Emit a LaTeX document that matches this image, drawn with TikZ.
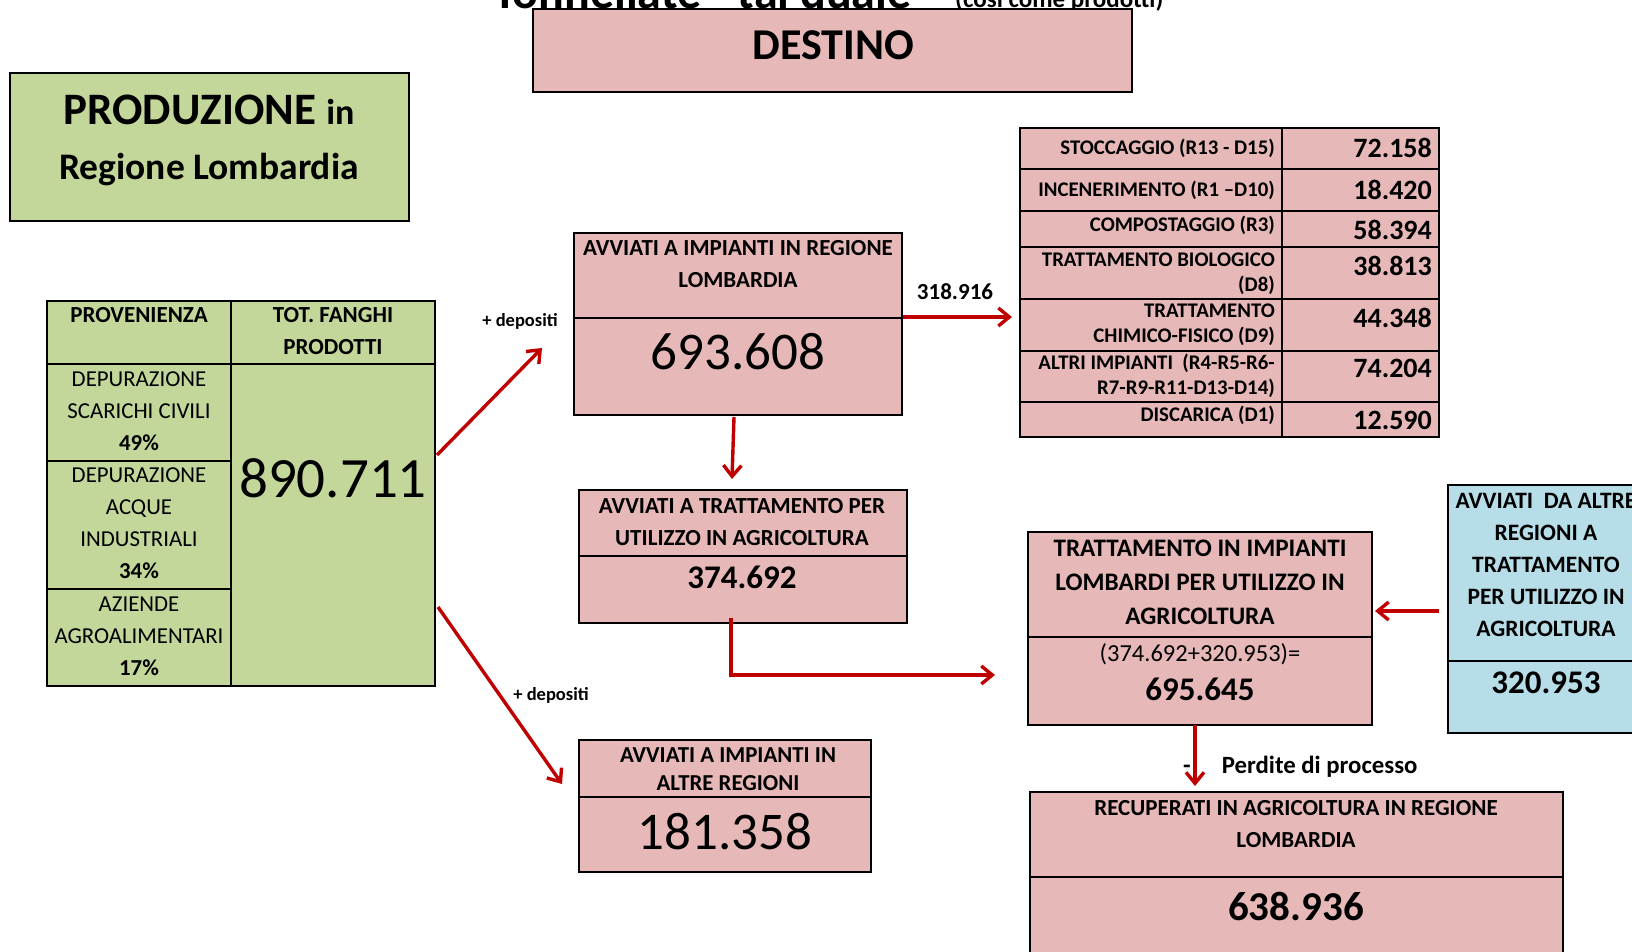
\documentclass[tikz,border=0pt]{standalone}
\usepackage{fontspec}
\setmainfont{Carlito}
\usetikzlibrary{arrows.meta,calc}

\definecolor{verde}{HTML}{C4D79B}
\definecolor{rosa}{HTML}{E6B9B8}
\definecolor{azzurro}{HTML}{B7DEE8}
\definecolor{rosso}{HTML}{C00000}

\newcommand{\fs}[2]{\fontsize{#1}{#2}\selectfont}

\tikzset{
  cella/.style={draw, line width=1.2pt, anchor=north west, inner sep=0pt, outer sep=0pt},
  intesta/.style={font=\bfseries\fs{23}{32}, align=center},
  voce/.style={font=\fs{22.8}{32}, align=center},
  etich/.style={font=\bfseries\fs{20.8}{25}, align=right, anchor=east},
  cifra/.style={font=\bfseries\fs{28}{28}, anchor=east},
  freccia/.style={rosso, line width=3.4pt, -{Straight Barb[length=11pt,width=18pt]}}
}

\begin{document}
\begin{tikzpicture}[x=1pt,y=-1pt,inner sep=0pt]

\useasboundingbox (0,0) rectangle (1632,952);

% titolo tagliato in alto
\node[anchor=base west, font=\bfseries\fs{48}{48}] (tonn) at (493,9) {Tonnellate - tal quale};
\node[anchor=base west, font=\bfseries\fs{25}{25}] (cosi) at (955,8) {(così come prodotti)};

% produzione
\node[cella, fill=verde, minimum width=399pt, minimum height=148pt] (prod) at (10,73) {};
\node[anchor=base, font=\bfseries\fs{45}{45}] (prodT) at (209,125) {PRODUZIONE {\fs{36}{36}in}};
\node[anchor=base, font=\bfseries\fs{37.5}{37.5}] (prodR) at (209,179) {Regione Lombardia};

% destino
\node[cella, fill=rosa, minimum width=599pt, minimum height=83pt] (dest) at (533,9) {};
\node[anchor=base, font=\bfseries\fs{44}{44}] (destT) at (833,60) {DESTINO};

% tabella provenienza
\node[cella, fill=verde, minimum width=184pt, minimum height=63pt] (provH) at (47,301) {};
\node[cella, fill=verde, minimum width=204pt, minimum height=63pt] (totH) at (231,301) {};
\node[cella, fill=verde, minimum width=184pt, minimum height=97pt] (civ) at (47,364) {};
\node[cella, fill=verde, minimum width=184pt, minimum height=128pt] (ind) at (47,461) {};
\node[cella, fill=verde, minimum width=184pt, minimum height=97pt] (agro) at (47,589) {};
\node[cella, fill=verde, minimum width=204pt, minimum height=322pt] (tot) at (231,364) {};

\node[intesta] at (139,315) {PROVENIENZA};
\node[intesta] at (333,331) {TOT. FANGHI\\PRODOTTI};
\node[voce] at (139,411.5) {DEPURAZIONE\\SCARICHI CIVILI\\\textbf{49\%}};
\node[voce] at (139,523.5) {DEPURAZIONE\\ACQUE\\INDUSTRIALI\\\textbf{34\%}};
\node[voce] at (139,636.5) {AZIENDE\\AGROALIMENTARI\\\textbf{17\%}};
\node[font=\fs{57}{57}] at (333,478) {890.711};

% avviati in regione
\node[cella, fill=rosa, minimum width=328pt, minimum height=85pt] (regH) at (574,233) {};
\node[cella, fill=rosa, minimum width=328pt, minimum height=97pt] (regV) at (574,318) {};
\node[intesta] at (738,264) {AVVIATI A IMPIANTI IN REGIONE\\LOMBARDIA};
\node[font=\fs{53}{53}] at (738,352) {693.608};

% avviati a trattamento
\node[cella, fill=rosa, minimum width=328pt, minimum height=66pt] (agrH) at (579,490) {};
\node[cella, fill=rosa, minimum width=328pt, minimum height=67pt] (agrV) at (579,556) {};
\node[intesta] at (742,522) {AVVIATI A TRATTAMENTO PER\\UTILIZZO IN AGRICOLTURA};
\node[font=\bfseries\fs{33}{33}] at (742,577) {374.692};

% avviati in altre regioni
\node[cella, fill=rosa, minimum width=292pt, minimum height=57pt] (altH) at (579,740) {};
\node[cella, fill=rosa, minimum width=292pt, minimum height=75pt] (altV) at (579,797) {};
\node[intesta, font=\bfseries\fs{22.8}{28}] at (728,769) {AVVIATI A IMPIANTI IN\\ALTRE REGIONI};
\node[font=\fs{53}{53}] at (725,832) {181.358};

% tabella destini
\node[cella, fill=rosa, minimum width=262pt, minimum height=41pt] (s1) at (1020,128) {};
\node[cella, fill=rosa, minimum width=262pt, minimum height=42pt] (s2) at (1020,169) {};
\node[cella, fill=rosa, minimum width=262pt, minimum height=36pt] (s3) at (1020,211) {};
\node[cella, fill=rosa, minimum width=262pt, minimum height=52pt] (s4) at (1020,247) {};
\node[cella, fill=rosa, minimum width=262pt, minimum height=52pt] (s5) at (1020,299) {};
\node[cella, fill=rosa, minimum width=262pt, minimum height=51pt] (s6) at (1020,351) {};
\node[cella, fill=rosa, minimum width=262pt, minimum height=35pt] (s7) at (1020,402) {};
\node[cella, fill=rosa, minimum width=157pt, minimum height=41pt] (n1) at (1282,128) {};
\node[cella, fill=rosa, minimum width=157pt, minimum height=42pt] (n2) at (1282,169) {};
\node[cella, fill=rosa, minimum width=157pt, minimum height=36pt] (n3) at (1282,211) {};
\node[cella, fill=rosa, minimum width=157pt, minimum height=52pt] (n4) at (1282,247) {};
\node[cella, fill=rosa, minimum width=157pt, minimum height=52pt] (n5) at (1282,299) {};
\node[cella, fill=rosa, minimum width=157pt, minimum height=51pt] (n6) at (1282,351) {};
\node[cella, fill=rosa, minimum width=157pt, minimum height=35pt] (n7) at (1282,402) {};

\node[etich] at (1275,148) {STOCCAGGIO (R13 - D15)};
\node[etich] at (1275,190) {INCENERIMENTO (R1 –D10)};
\node[etich] at (1275,225) {COMPOSTAGGIO (R3)};
\node[etich] at (1275,273.5) {TRATTAMENTO BIOLOGICO\\(D8)};
\node[etich] at (1275,325) {TRATTAMENTO\\CHIMICO-FISICO (D9)};
\node[etich] at (1275,375.5) {ALTRI IMPIANTI\ \ (R4-R5-R6-\\R7-R9-R11-D13-D14)};
\node[etich] at (1275,415) {DISCARICA (D1)};

\node[cifra] at (1432,148) {72.158};
\node[cifra] at (1432,190) {18.420};
\node[cifra] at (1432,230) {58.394};
\node[cifra] at (1432,266) {38.813};
\node[cifra] at (1432,318) {44.348};
\node[cifra] at (1432,368) {74.204};
\node[cifra] at (1432,420) {12.590};

% trattamento in impianti lombardi
\node[cella, fill=rosa, minimum width=344pt, minimum height=105pt] (lombH) at (1028,532) {};
\node[cella, fill=rosa, minimum width=344pt, minimum height=88pt] (lombV) at (1028,637) {};
\node[intesta, font=\bfseries\fs{25.2}{34}] at (1200,582.5) {TRATTAMENTO IN IMPIANTI\\LOMBARDI PER UTILIZZO IN\\AGRICOLTURA};
\node[font=\fs{24.5}{24.5}] at (1200,654) {(374.692+320.953)=};
\node[font=\bfseries\fs{33}{33}] at (1200,689) {695.645};

% da altre regioni
\node[cella, fill=azzurro, minimum width=200pt, minimum height=176pt] (azzH) at (1448,485) {};
\node[cella, fill=azzurro, minimum width=200pt, minimum height=72pt] (azzV) at (1448,661) {};
\node[intesta, font=\bfseries\fs{23.5}{32}] at (1546,564.5) {AVVIATI\ \ DA ALTRE\\REGIONI A\\TRATTAMENTO\\PER UTILIZZO IN\\AGRICOLTURA};
\node[font=\bfseries\fs{33}{33}] at (1546,683) {320.953};

% recuperati
\node[cella, fill=rosa, minimum width=533pt, minimum height=85pt] (recH) at (1030,792) {};
\node[cella, fill=rosa, minimum width=533pt, minimum height=90pt] (recV) at (1030,877) {};
\node[intesta] at (1296,824) {RECUPERATI IN AGRICOLTURA IN REGIONE\\LOMBARDIA};
\node[font=\bfseries\fs{41}{41}] at (1296,906) {638.936};

% etichette delle frecce
\node[anchor=base, font=\bfseries\fs{18.5}{18.5}] (dep1) at (520,326) {+ depositi};
\node[anchor=base, font=\bfseries\fs{18.5}{18.5}] (dep2) at (551,700) {+ depositi};
\node[font=\bfseries\fs{23}{23}] (q1) at (955,292) {318.916};
\node[anchor=base west, font=\bfseries\fs{24.8}{24.8}] (perd) at (1183,773) {-\hspace{31pt}Perdite di processo};

% frecce
\coordinate (fReg) at (542,348);
\coordinate (fAltre) at (562,784);
\coordinate (fTab) at (1012,317);
\coordinate (fAgr) at (732,479);
\coordinate (fLomb) at (995,675);
\coordinate (fAzz) at (1375,611);
\coordinate (fRec) at (1195,786);

\draw[freccia] ($(tot.east)+(2,-70)$) -- (fReg);
\draw[freccia] ($(tot.east)+(3,82)$) -- (fAltre);
\draw[freccia] ($(regH.south east)+(1,-1)$) -- (fTab);
\draw[freccia] ($(regV.south)+(-4,2)$) -- (fAgr);
\draw[freccia] ($(agrV.south)+(-12,-5)$) |- (fLomb);
\draw[freccia] ($(azzH.west)+(-9,38)$) -- (fAzz);
\draw[freccia] ($(lombV.south)+(-5,0)$) -- (fRec);

\end{tikzpicture}
\end{document}
